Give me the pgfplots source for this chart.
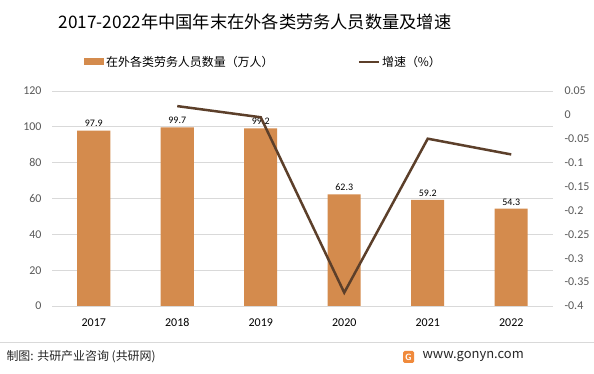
\documentclass[border=0pt]{standalone}
\usepackage{fontspec}
\usepackage{pgfplots}
\pgfplotsset{compat=1.18}
\setmainfont{Carlito}
\newfontfamily\cjk{Noto Sans CJK SC}
\definecolor{barc}{HTML}{D48B4D}
\definecolor{linec}{HTML}{5C3F2A}
\definecolor{gridc}{HTML}{D9D9D9}
\definecolor{tickc}{HTML}{595959}
\definecolor{logoc}{HTML}{F08A3C}
\begin{document}
\begin{tikzpicture}[x=1bp,y=1bp]
\path[use as bounding box, fill=white] (0bp,0bp) rectangle (594bp,374bp);
\node[font=\cjk\fontsize{17.3}{20}\selectfont, text=black] at (255bp,352bp) {2017-2022年中国年末在外各类劳务人员数量及增速};
\begin{axis}[at={(52bp,68bp)}, anchor=south west, width=501bp, height=215bp, scale only axis,
  xmin=-0.5, xmax=5.5, ymin=0, ymax=120, ytick={0,20,...,120},
  xtick={0,...,5}, xticklabels={2017,2018,2019,2020,2021,2022},
  axis line style={draw=none}, major tick length=0pt,
  ymajorgrids, grid style={gridc, line width=0.8bp},
  /pgf/number format/assume math mode=true,
  y tick label style={font=\fontsize{12}{13}\selectfont, text=tickc},
  x tick label style={font=\fontsize{12}{13}\selectfont, text=black, text height=8bp, text depth=0pt},
  yticklabel style={xshift=-7bp},
  xticklabel style={yshift=-9bp},
  legend style={at={(0.058,1.135)}, anchor=west, draw=none, fill=none,
    font=\cjk\fontsize{12}{14}\selectfont, legend columns=2,
    /tikz/every even column/.append style={column sep=82bp}},
  legend cell align=left,
]
\addplot[ybar, bar width=33bp, fill=barc, draw=none, bar shift=0pt,
  legend image code/.code={\fill[barc] (0bp,-3.5bp) rectangle (20bp,3.5bp);},
  nodes near coords, /pgf/number format/.cd, fixed, precision=1, fixed zerofill, /tikz/.cd,
  every node near coord/.append style={font=\fontsize{12}{13}\selectfont, text=black!75, yshift=4bp}]
  coordinates {(0,97.9) (1,99.7) (2,99.2) (3,62.3) (4,59.2) (5,54.3)};
\addlegendentry{在外各类劳务人员数量（万人）}
\addlegendimage{legend image code/.code={\draw[linec, line width=2.5bp] (0bp,0bp) -- (20bp,0bp);}}
\addlegendentry{增速（\%）}
\end{axis}
\begin{axis}[at={(52bp,68bp)}, anchor=south west, width=501bp, height=215bp, scale only axis,
  xmin=-0.5, xmax=5.5, ymin=-0.4, ymax=0.05,
  axis y line*=right, axis x line=none, axis line style={draw=none}, major tick length=0pt,
  ytick={-0.4,-0.35,-0.3,-0.25,-0.2,-0.15,-0.1,-0.05,0,0.05},
  yticklabels={-0.4,-0.35,-0.3,-0.25,-0.2,-0.15,-0.1,-0.05,0,0.05},
  y tick label style={font=\fontsize{12}{13}\selectfont, text=tickc, xshift=8bp},
]
\addplot[linec, line width=2.5bp, mark=none] coordinates {(1,0.0184) (2,-0.005) (3,-0.372) (4,-0.0498) (5,-0.0828)};
\end{axis}
\draw[gridc, line width=0.8bp] (0bp,32bp) -- (594bp,32bp);
\node[anchor=west, font=\cjk\fontsize{12}{14}\selectfont, text=black!85] at (3bp,17bp) {制图: 共研产业咨询 (共研网)};
\fill[logoc, rounded corners=1.5bp] (403bp,11bp) rectangle (414bp,23bp);
\node[font=\sffamily\bfseries\fontsize{9}{10}\selectfont, text=white, inner sep=0pt] at (408.5bp,17bp) {G};
\node[anchor=west, font=\cjk\fontsize{13}{15}\selectfont, text=black!85] at (419bp,17bp) {www.gonyn.com};
\end{tikzpicture}
\end{document}
